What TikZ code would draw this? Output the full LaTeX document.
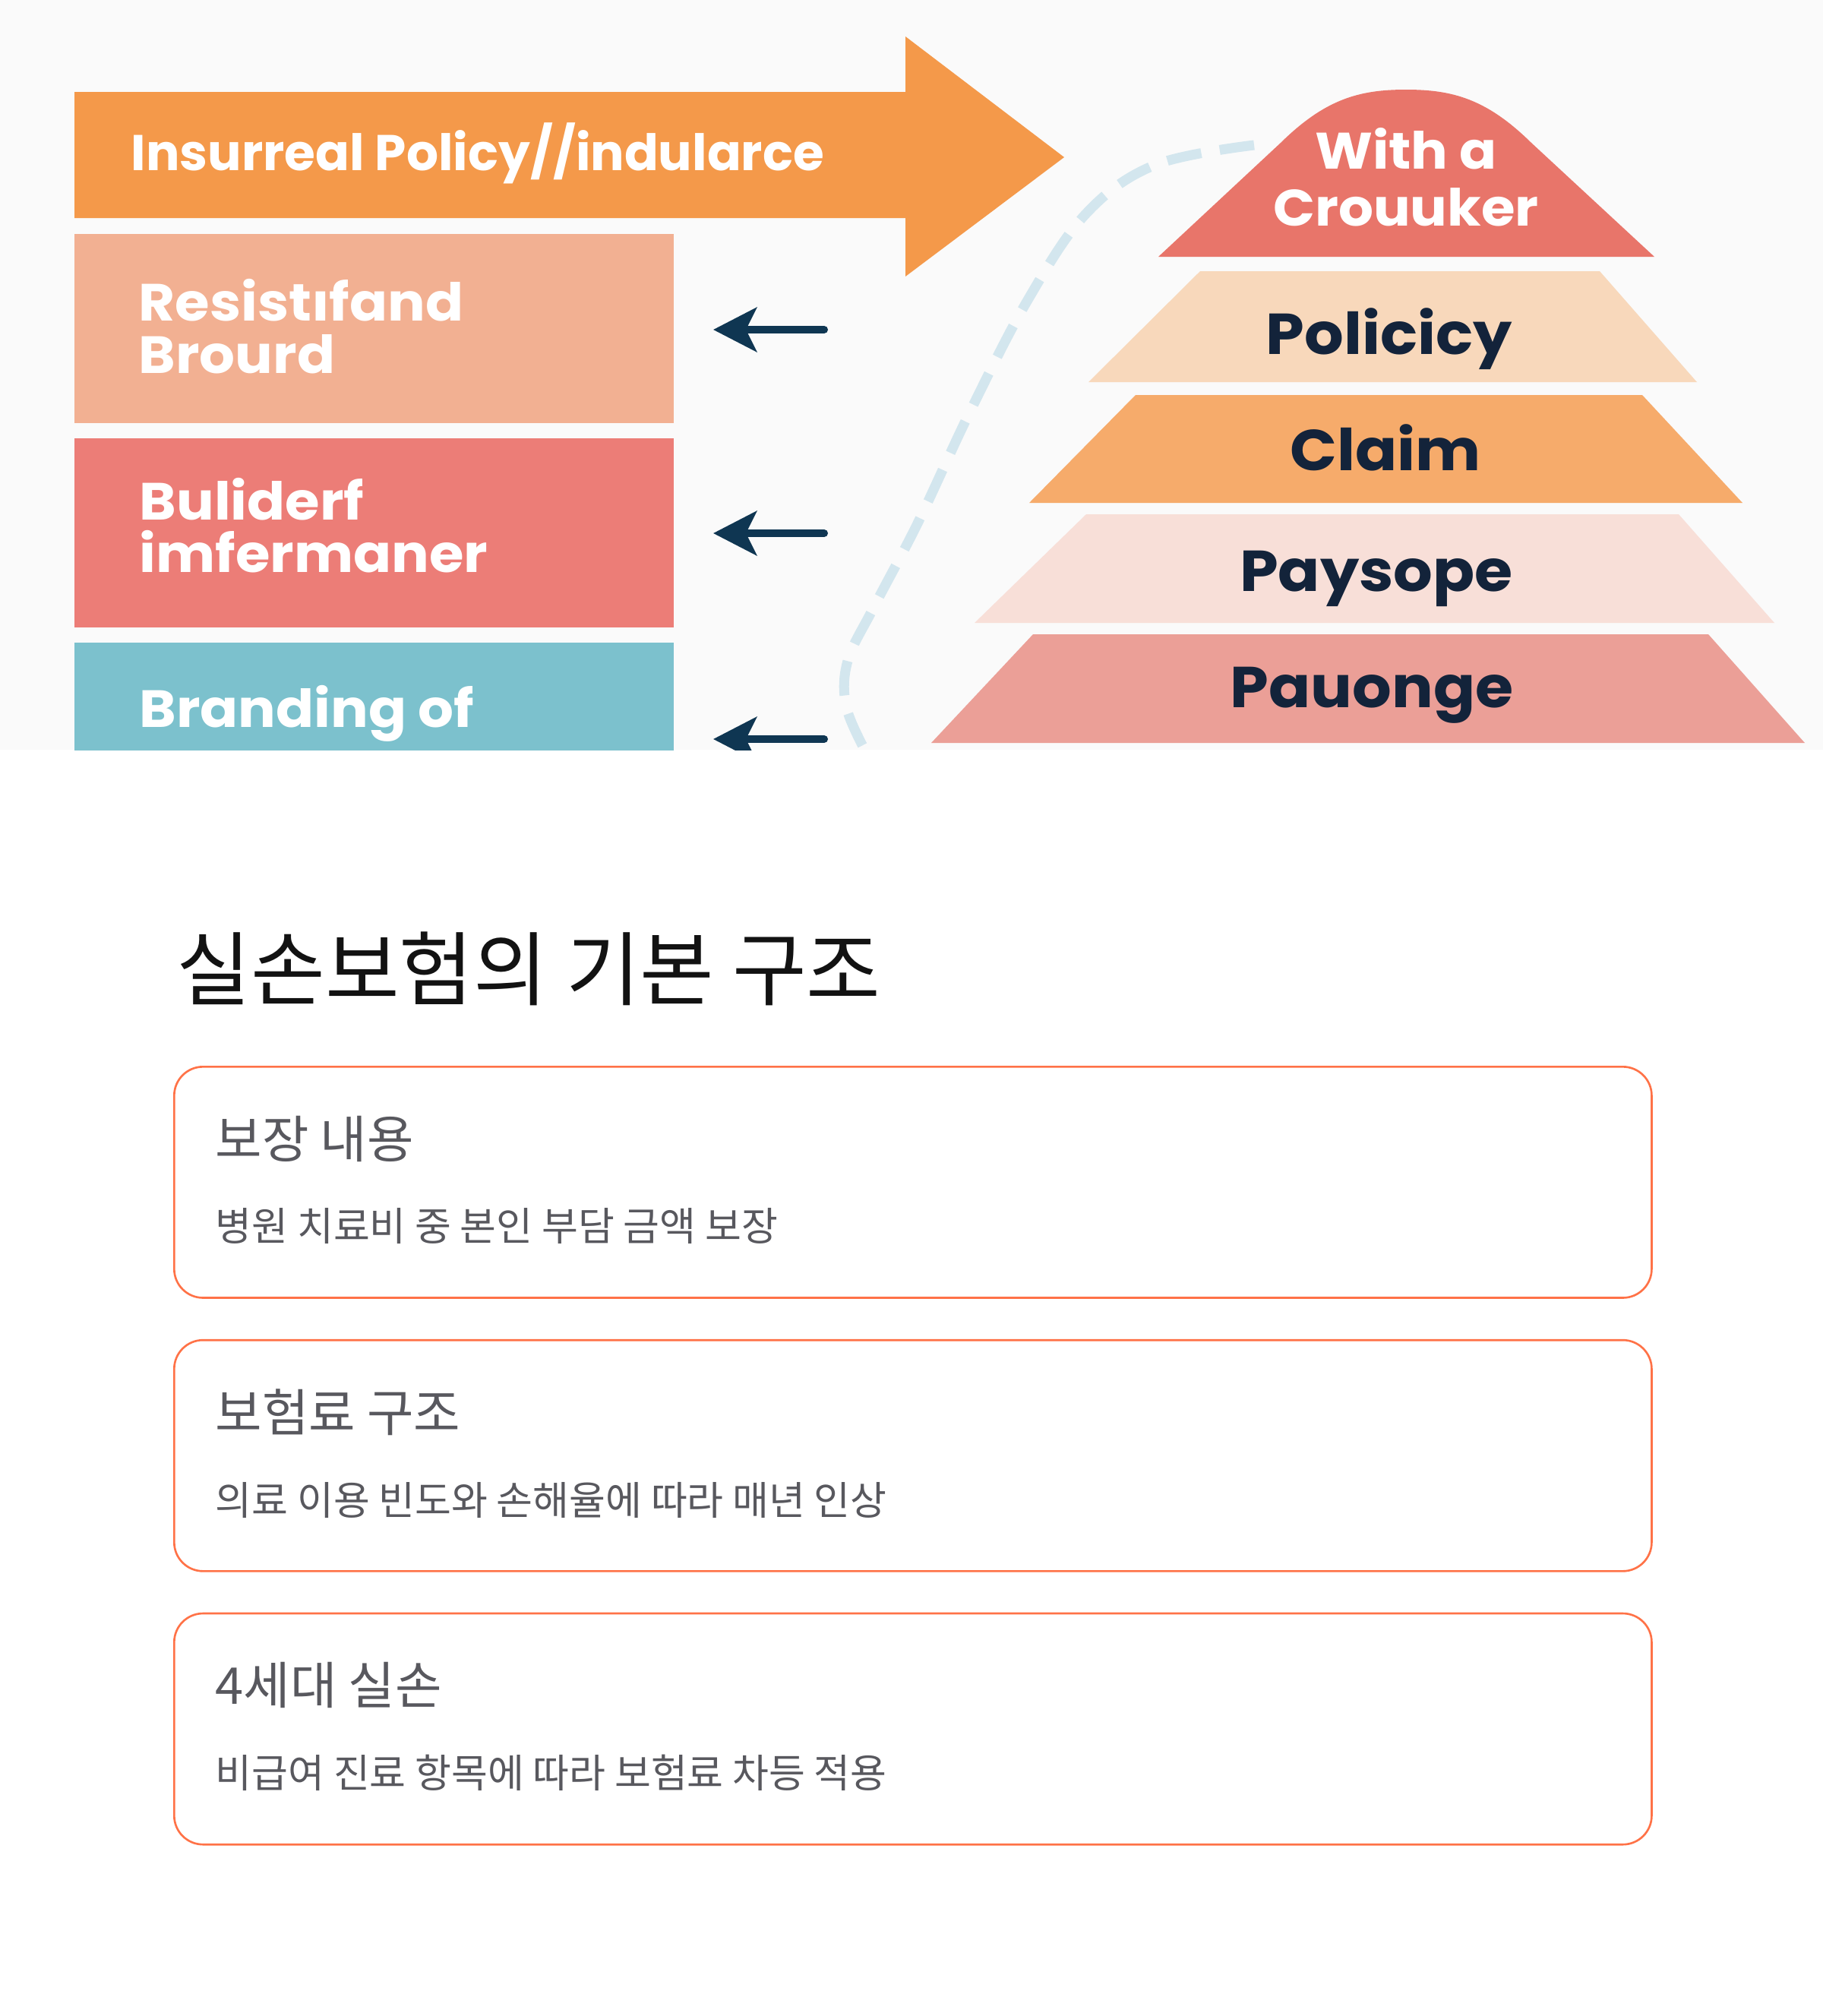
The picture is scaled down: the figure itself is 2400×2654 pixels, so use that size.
\documentclass[tikz,border=0pt]{standalone}
\usepackage{fontspec}
\usepackage{tikz}
\usetikzlibrary{positioning,arrows.meta,calc}
\newfontfamily\popfont{Poppins}
\newfontfamily\popwide{Poppins}[FakeStretch=1.07]
\newfontfamily\krfont{Noto Sans CJK KR}
\definecolor{paper}{HTML}{FAFAFA}
\definecolor{banner}{HTML}{F4994A}
\definecolor{salmon}{HTML}{F2B092}
\definecolor{coral}{HTML}{EC7D77}
\definecolor{teal}{HTML}{7CC1CD}
\definecolor{navy}{HTML}{0F3652}
\definecolor{capred}{HTML}{E8756A}
\definecolor{peach}{HTML}{F8D8BB}
\definecolor{apricot}{HTML}{F6AB6B}
\definecolor{blush}{HTML}{F8DFD8}
\definecolor{rosy}{HTML}{EB9F97}
\definecolor{ink}{HTML}{13233A}
\definecolor{mist}{HTML}{D3E6EE}
\definecolor{cardline}{HTML}{FF7247}
\definecolor{cardgray}{HTML}{58585E}
\tikzset{
  blockbox/.style={anchor=north west, minimum width=7.89cm, minimum height=2.49cm, inner sep=0pt, outer sep=0pt},
  blocklabel/.style={anchor=base west, align=left, text=white, inner sep=0pt, font=\popwide\bfseries\fontsize{19.6}{19.4}\selectfont},
  bannerlabel/.style={anchor=base west, text=white, inner sep=0pt, font=\popfont\bfseries\fontsize{18.8}{20}\selectfont},
  layerlabel/.style={anchor=base, text=ink, inner sep=0pt, font=\popwide\bfseries\fontsize{21.6}{22}\selectfont},
  caplabel/.style={anchor=base, align=center, text=white, inner sep=0pt, font=\popwide\bfseries\fontsize{19.2}{21.3}\selectfont},
  backarrow/.style={-{Stealth[length=5.7mm,width=5.8mm,inset=1.4mm]}, line width=2.85pt, draw=navy, line cap=round},
  loopdash/.style={draw=mist, line width=3.7pt, dash pattern=on 13pt off 7pt},
  cardbox/.style={draw=cardline, line width=0.75pt, rounded corners=0.38cm, minimum width=19.44cm, minimum height=3.04cm, inner sep=0pt, fill=white},
  cardhead/.style={anchor=west, inner sep=0pt, text=cardgray, font=\krfont\fontsize{19}{21}\selectfont},
  cardtext/.style={anchor=west, inner sep=0pt, text=cardgray, font=\krfont\fontsize{14.8}{17}\selectfont},
  pagetitle/.style={anchor=west, inner sep=0pt, text=black!93, font=\krfont\fontsize{30.2}{33}\selectfont}
}
\begin{document}
\begin{tikzpicture}[x=0.01cm, y=-0.01cm]
  \useasboundingbox (0,0) rectangle (2400,2654);
  \fill[white] (0,0) rectangle (2400,2654);
  % illustration
  \begin{scope}
    \clip (0,0) rectangle (2400,987);
    \fill[paper] (0,0) rectangle (2400,987);
    \fill[banner] (98,121) -- (1192,121) -- (1192,48) -- (1401,207) -- (1192,364) -- (1192,287) -- (98,287) -- cycle;
    \node[bannerlabel] (banner) at (172,224) {Insurreal Policy//indularce};
    \node[blockbox, fill=salmon] (resist) at (98,308) {};
    \node[blockbox, fill=coral, below=0.2cm of resist] (build) {};
    \node[blockbox, fill=teal, below=0.2cm of build] (brand) {};
    \node[blocklabel] (resisttxt) at (182,491) {Resistıfand\\Brourd};
    \node[blocklabel] (buildtxt) at (183,753) {Buliderf\\imfermaner};
    \node[blocklabel] (brandtxt) at (183,957) {Branding of};
    \coordinate (tail1) at (1085,434);
    \coordinate (tip1) at (939,434);
    \coordinate (tail2) at (1085,702);
    \coordinate (tip2) at (939,702);
    \coordinate (tail3) at (1085,973);
    \coordinate (tip3) at (939,973);
    \draw[backarrow] (tail1) -- (tip1);
    \draw[backarrow] (tail2) -- (tip2);
    \draw[backarrow] (tail3) -- (tip3);
    % pyramid
    \fill[capred] (1525,338) -- (1686,188) .. controls (1745,130) and (1790,118) .. (1851,118) .. controls (1912,118) and (1957,130) .. (2016,188) -- (2178,338) -- cycle;
    \fill[peach] (1580,357) -- (2106,357) -- (2234,503) -- (1433,503) -- cycle;
    \fill[apricot] (1495,520) -- (2162,520) -- (2294,662) -- (1355,662) -- cycle;
    \fill[blush] (1430,677) -- (2210,677) -- (2336,820) -- (1283,820) -- cycle;
    \fill[rosy] (1360,835) -- (2249,835) -- (2376,978) -- (1226,978) -- cycle;
    \node[caplabel] (crown) at (1851,297) {With a\\Crouuker};
    \node[layerlabel] (policy) at (1829,466) {Policicy};
    \node[layerlabel] (claim) at (1824,619) {Claim};
    \node[layerlabel] (paysope) at (1812,778) {Paysope};
    \node[layerlabel] (pauonge) at (1806,931) {Pauonge};
    \coordinate (loopstart) at (1651,191);
    \coordinate (loopend) at (1140,990);
    \draw[loopdash] plot[smooth, tension=0.6] coordinates {(loopstart) (1521,217) (1430,281) (1353,395) (1277,542) (1208,689) (1150,800) (1116,870) (1114,930) (loopend)};
  \end{scope}
  % cards
  \node[pagetitle] (title) at (232,1275) {실손보험의 기본 구조};
  \node[cardbox, anchor=north west] (card1) at (228,1403) {};
  \node[cardbox, below=0.53cm of card1] (card2) {};
  \node[cardbox, below=0.53cm of card2] (card3) {};
  \node[cardhead] (head1) at ($(card1.north west)+(55,96)$) {보장 내용};
  \node[cardtext] (text1) at ($(card1.north west)+(55,211)$) {병원 치료비 중 본인 부담 금액 보장};
  \node[cardhead] (head2) at ($(card2.north west)+(55,96)$) {보험료 구조};
  \node[cardtext] (text2) at ($(card2.north west)+(55,212)$) {의료 이용 빈도와 손해율에 따라 매년 인상};
  \node[cardhead] (head3) at ($(card3.north west)+(55,96)$) {4세대 실손};
  \node[cardtext] (text3) at ($(card3.north west)+(55,211)$) {비급여 진료 항목에 따라 보험료 차등 적용};
\end{tikzpicture}
\end{document}
